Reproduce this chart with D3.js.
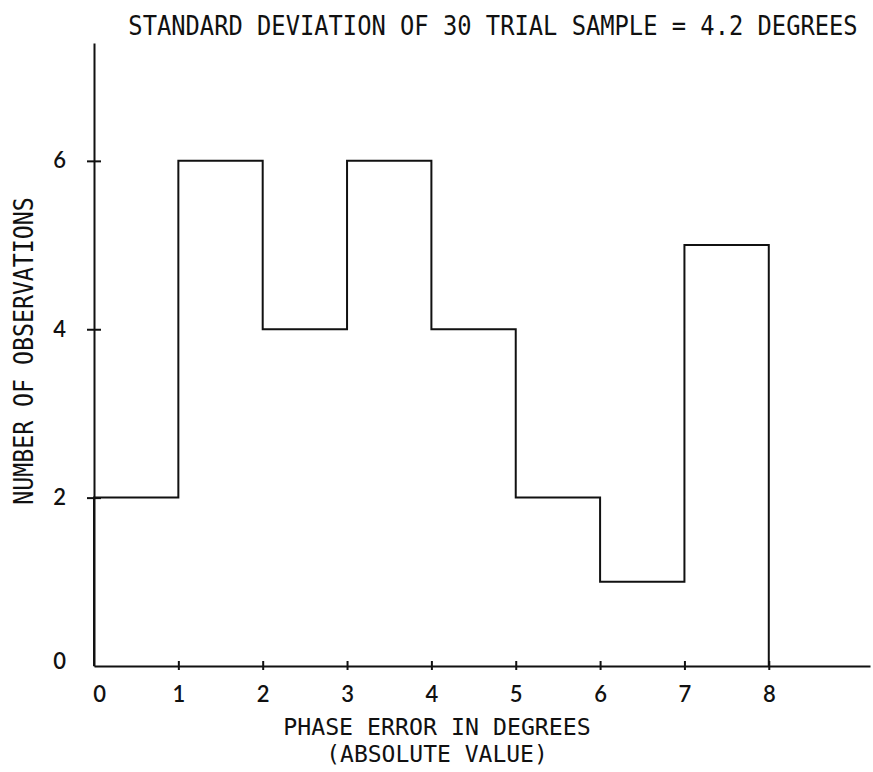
<!DOCTYPE html>
<html>
<head>
<meta charset="utf-8">
<script src="https://cdn.jsdelivr.net/npm/d3@7"></script>
<style>
  body { margin: 0; background: #fff; }
  svg text { fill: #111; }
  .typed { font-family: "DejaVu Sans Mono", monospace; }
  .hand { font-family: "Lato", "Open Sans", sans-serif; }
</style>
</head>
<body>
<div id="chart"></div>
<script>
// bins of |phase error| in degrees and counts (30 trials)
const binEdges = [0, 1, 2, 3, 4, 5, 6, 7, 8];
const counts = [2, 6, 4, 6, 4, 2, 1, 5];
const xTicks = [0, 1, 2, 3, 4, 5, 6, 7, 8];
const yTicks = [0, 2, 4, 6];

const title = 'STANDARD DEVIATION OF 30 TRIAL SAMPLE = 4.2 DEGREES';
const xLabel = ['PHASE ERROR IN DEGREES', '(ABSOLUTE VALUE)'];
const yLabel = 'NUMBER OF OBSERVATIONS';

const W = 873, H = 772;

const svg = d3.select('#chart').append('svg')
    .attr('width', W)
    .attr('height', H);

const x = d3.scaleLinear().domain([0, 9.2]).range([94, 870]);
const y = d3.scaleLinear().domain([0, 7.4]).range([666, 43]);

// axes
const xAxis = svg.append('g')
    .attr('transform', `translate(0,${y(0)})`)
    .call(d3.axisBottom(x).tickValues(xTicks).tickSizeOuter(0).tickSizeInner(5).tickPadding(15));

const yAxis = svg.append('g')
    .attr('transform', `translate(${x(0)},0)`)
    .call(d3.axisLeft(y).tickValues(yTicks).tickSizeOuter(0).tickSizeInner(7).tickPadding(21));

[xAxis, yAxis].forEach(g => {
    g.select('.domain').attr('stroke', '#111').attr('stroke-width', 2);
    g.selectAll('.tick line').attr('stroke', '#111').attr('stroke-width', 2);
    g.selectAll('.tick text')
        .attr('class', 'hand')
        .style('font-size', '22px')
        .style('font-weight', '600')
        .attr('fill', '#111');
});
// cross ticks
xAxis.selectAll('.tick line').attr('y1', -5).attr('y2', 4);
yAxis.selectAll('.tick line').attr('x1', -7).attr('x2', 7);
xAxis.selectAll('.tick').filter(d => d === 0).select('line').remove();
yAxis.selectAll('.tick').filter(d => d === 0).select('line').remove();
yAxis.selectAll('.tick').filter(d => d === 0).select('text').attr('dy', '0.1em');
xAxis.selectAll('.tick').filter(d => d === 0).select('text').attr('x', 5);

// histogram outline
const pts = [[binEdges[0], 0]];
counts.forEach((c, i) => {
    pts.push([binEdges[i], c]);
    pts.push([binEdges[i + 1], c]);
});
pts.push([binEdges[binEdges.length - 1], 0]);

svg.append('path')
    .datum(pts)
    .attr('fill', 'none')
    .attr('stroke', '#111')
    .attr('stroke-width', 2)
    .attr('d', d3.line().x(d => x(d[0])).y(d => y(d[1])));

// typewriter texts, squeezed horizontally
function typed(txt, tx, ty, size, sx, rot) {
    svg.append('text')
        .attr('class', 'typed')
        .attr('transform', `translate(${tx},${ty})${rot ? ' rotate(-90)' : ''} scale(${sx},1)`)
        .attr('text-anchor', 'middle')
        .style('font-size', size + 'px')
        .text(txt);
}

typed(title, 493, 35, 27, 0.88);
typed(xLabel[0], 437, 735, 23, 1.01);
typed(xLabel[1], 437, 762, 23, 1.0);
typed(yLabel, 33, 351, 27, 0.86, true);
</script>
</body>
</html>
